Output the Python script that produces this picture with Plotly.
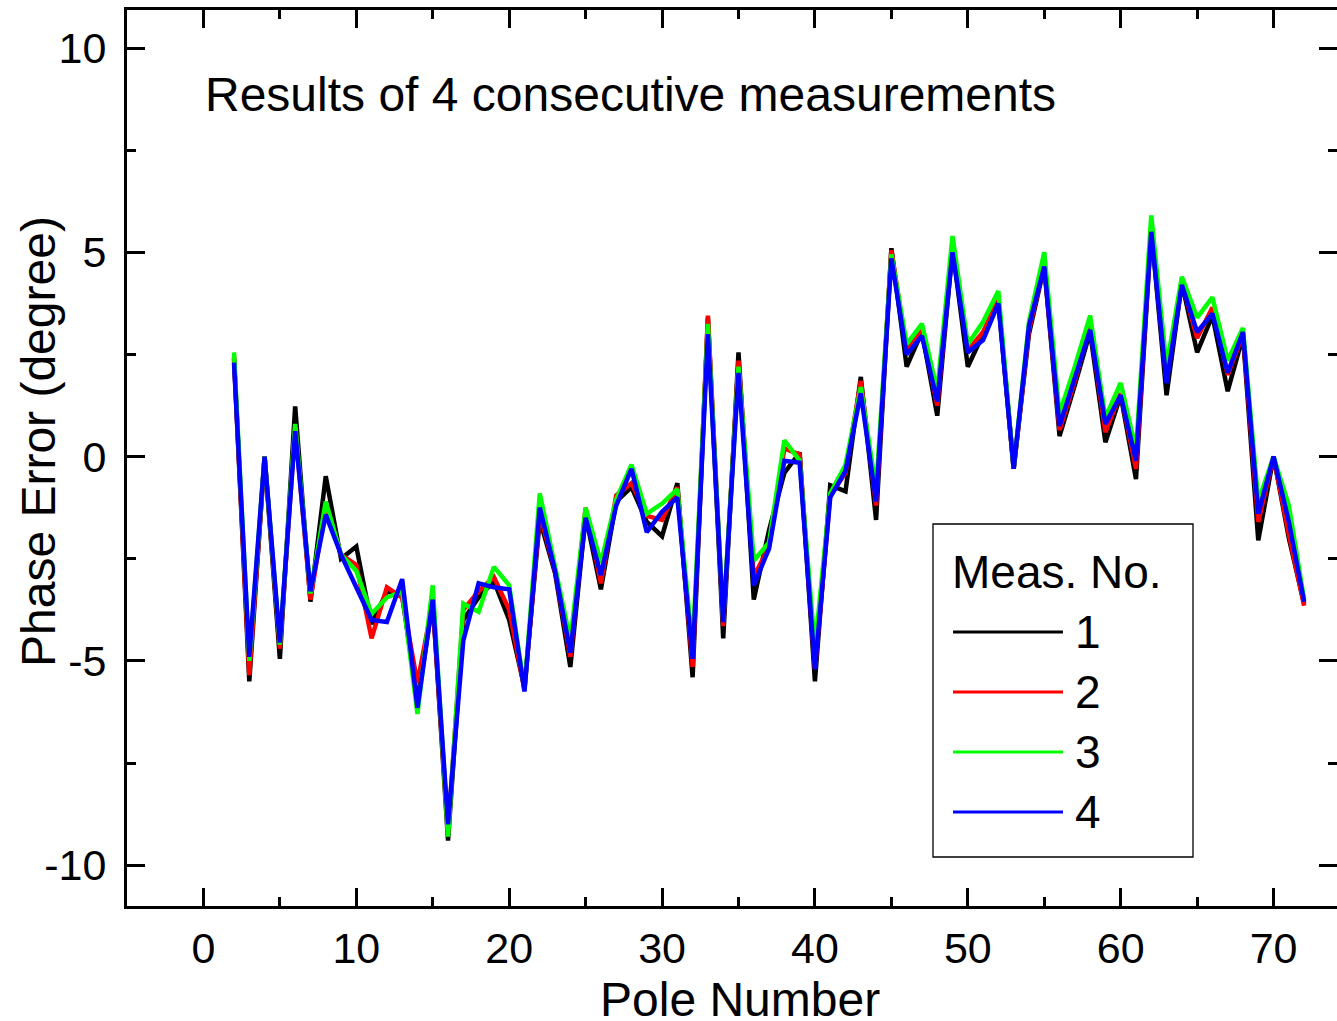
import plotly.graph_objects as go

poles = list(range(2, 73))

meas1 = [2.4, -5.5, 0, -4.95, 1.23, -3.55, -0.48, -2.5, -2.2, -4.1, -3.3, -3.4, -6.0, -3.55, -9.4,
         -4.0, -3.45, -3.05, -4.0, -5.65, -1.55, -2.85, -5.15, -1.45, -3.25, -1.1, -0.75, -1.6, -1.95,
         -0.65, -5.4, 3.4, -4.45, 2.55, -3.5, -1.8, -0.4, 0.1, -5.5, -0.7, -0.85, 1.95, -1.55, 5.1,
         2.2, 3.05, 1.0, 5.1, 2.2, 3.0, 3.8, -0.3, 3.0, 4.65, 0.5, 1.75, 3.05, 0.35, 1.5, -0.55, 5.55,
         1.5, 4.25, 2.55, 3.45, 1.6, 2.95, -2.05, 0, -2.0, -3.6]
meas2 = [2.45, -5.35, 0, -4.7, 0.72, -3.5, -1.17, -2.4, -2.65, -4.45, -3.2, -3.45, -5.55, -3.55, -9.2,
         -3.75, -3.3, -2.95, -3.75, -5.7, -1.4, -2.8, -4.9, -1.25, -3.1, -0.95, -0.65, -1.45, -1.55,
         -0.75, -5.15, 3.45, -4.15, 2.35, -2.95, -2.2, 0.2, 0.05, -5.2, -0.95, -0.4, 1.85, -1.2, 5.05,
         2.6, 3.1, 1.25, 5.15, 2.6, 3.05, 3.85, -0.3, 3.1, 4.7, 0.65, 1.85, 3.2, 0.6, 1.55, -0.3, 5.6,
         1.85, 4.25, 2.9, 3.65, 2.0, 3.0, -1.6, 0, -1.9, -3.65]
meas3 = [2.55, -5.0, 0, -4.6, 0.8, -3.35, -1.1, -2.4, -2.8, -3.85, -3.45, -3.3, -6.3, -3.15, -9.3,
         -3.6, -3.8, -2.7, -3.15, -5.7, -0.9, -2.7, -4.5, -1.25, -2.6, -1.05, -0.2, -1.4, -1.15,
         -0.8, -4.7, 3.25, -4.0, 2.2, -2.55, -2.1, 0.4, -0.1, -4.7, -0.9, -0.2, 1.7, -0.8, 4.95,
         2.75, 3.25, 1.6, 5.4, 2.75, 3.3, 4.05, -0.3, 3.3, 5.0, 1.05, 2.2, 3.45, 0.95, 1.8, 0.15, 5.9,
         2.2, 4.4, 3.4, 3.9, 2.35, 3.15, -1.1, 0, -1.2, -3.5]
meas4 = [2.3, -4.9, 0, -4.55, 0.62, -3.3, -1.42, -2.4, -3.2, -4.0, -4.05, -3.0, -6.15, -3.5, -9.0,
         -4.5, -3.1, -3.2, -3.25, -5.75, -1.25, -2.8, -4.8, -1.5, -2.9, -1.2, -0.3, -1.85, -1.35,
         -1.0, -4.95, 3.0, -4.05, 2.05, -3.15, -2.25, -0.1, -0.15, -5.2, -1.0, -0.35, 1.55, -1.1, 4.85,
         2.5, 2.95, 1.35, 5.0, 2.55, 2.85, 3.75, -0.3, 3.2, 4.65, 0.75, 1.9, 3.1, 0.8, 1.5, -0.1, 5.5,
         1.8, 4.2, 3.05, 3.5, 2.05, 3.05, -1.4, 0, -1.6, -3.55]

series_names = ["1", "2", "3", "4"]
series_values = [meas1, meas2, meas3, meas4]
series_colors = ["#000000", "#ff0000", "#00ff00", "#0000ff"]

x_tickvals = [0, 10, 20, 30, 40, 50, 60, 70]
y_tickvals = [-10, -5, 0, 5, 10]
y_ticktext = ["-10", "-5", "0", "5", "10"]

title_text = "Results of 4 consecutive measurements"
legend_title = "Meas. No."
x_title = "Pole Number"
y_title = "Phase Error (degree)"

FONT = "Liberation Sans, Arial, Helvetica, sans-serif"

fig = go.Figure()
for name, vals, col in zip(series_names, series_values, series_colors):
    fig.add_trace(go.Scatter(x=poles, y=vals, mode="lines", name=name,
                             line=dict(color=col, width=4.5), showlegend=False))

axis_common = dict(showline=True, linecolor="black", linewidth=3, mirror="ticks",
                   ticks="inside", tickcolor="black", tickwidth=3, ticklen=18,
                   showgrid=False, zeroline=False, automargin=False,
                   tickfont=dict(family=FONT, size=43, color="black"))

fig.update_xaxes(range=[-5, 74.15], tickvals=x_tickvals,
                 minor=dict(dtick=5, tick0=0, ticks="inside", ticklen=9, tickwidth=3,
                            tickcolor="black", showgrid=False),
                 ticklabelstandoff=2,
                 **axis_common)
fig.update_yaxes(range=[-11.0, 10.93], tickvals=y_tickvals, ticktext=y_ticktext,
                 minor=dict(dtick=2.5, tick0=0, ticks="inside", ticklen=9, tickwidth=3,
                            tickcolor="black", showgrid=False),
                 ticklabelstandoff=9,
                 **axis_common)

def px2x(p):
    return (p - 127) / 1210.0

def py2y(p):
    return (906 - p) / 896.0

# Axis titles
fig.add_annotation(text=x_title, xref="paper", yref="paper", x=px2x(740), y=py2y(999),
                   xanchor="center", yanchor="middle", showarrow=False,
                   font=dict(family=FONT, size=48, color="black"))
fig.add_annotation(text=y_title, xref="paper", yref="paper", x=px2x(39), y=py2y(442),
                   xanchor="center", yanchor="middle", textangle=-90, showarrow=False,
                   font=dict(family=FONT, size=48, color="black"))

# Title text inside plot
fig.add_annotation(text=title_text, x=0, y=8.85, xref="x", yref="y", xanchor="left",
                   yanchor="middle", showarrow=False, font=dict(family=FONT, size=48, color="black"))

# Custom legend (box, title, line samples, labels)
fig.add_shape(type="rect", xref="paper", yref="paper", x0=px2x(933), x1=px2x(1193),
              y0=py2y(857), y1=py2y(524), line=dict(color="black", width=1.3),
              fillcolor="white", layer="above")
fig.add_annotation(text=legend_title, xref="paper", yref="paper", x=px2x(950), y=py2y(572),
                   xanchor="left", yanchor="middle", showarrow=False,
                   font=dict(family=FONT, size=46, color="black"))
entry_y = [632, 692, 752, 812]
for name, col, ey in zip(series_names, series_colors, entry_y):
    fig.add_shape(type="line", xref="paper", yref="paper", x0=px2x(953), x1=px2x(1063),
                  y0=py2y(ey), y1=py2y(ey), line=dict(color=col, width=3), layer="above")
    fig.add_annotation(text=name, xref="paper", yref="paper", x=px2x(1073), y=py2y(ey),
                       xanchor="left", yanchor="middle", showarrow=False,
                       font=dict(family=FONT, size=46, color="black"))

fig.update_layout(width=1337, height=1021, margin=dict(l=127, r=0, t=10, b=115, autoexpand=False),
                  plot_bgcolor="white", paper_bgcolor="white", showlegend=False,
                  font=dict(family=FONT, color="black"))

fig.write_html("out.html", config={"displayModeBar": False},
               post_script="document.body.style.margin='0';document.body.style.overflow='hidden';")
